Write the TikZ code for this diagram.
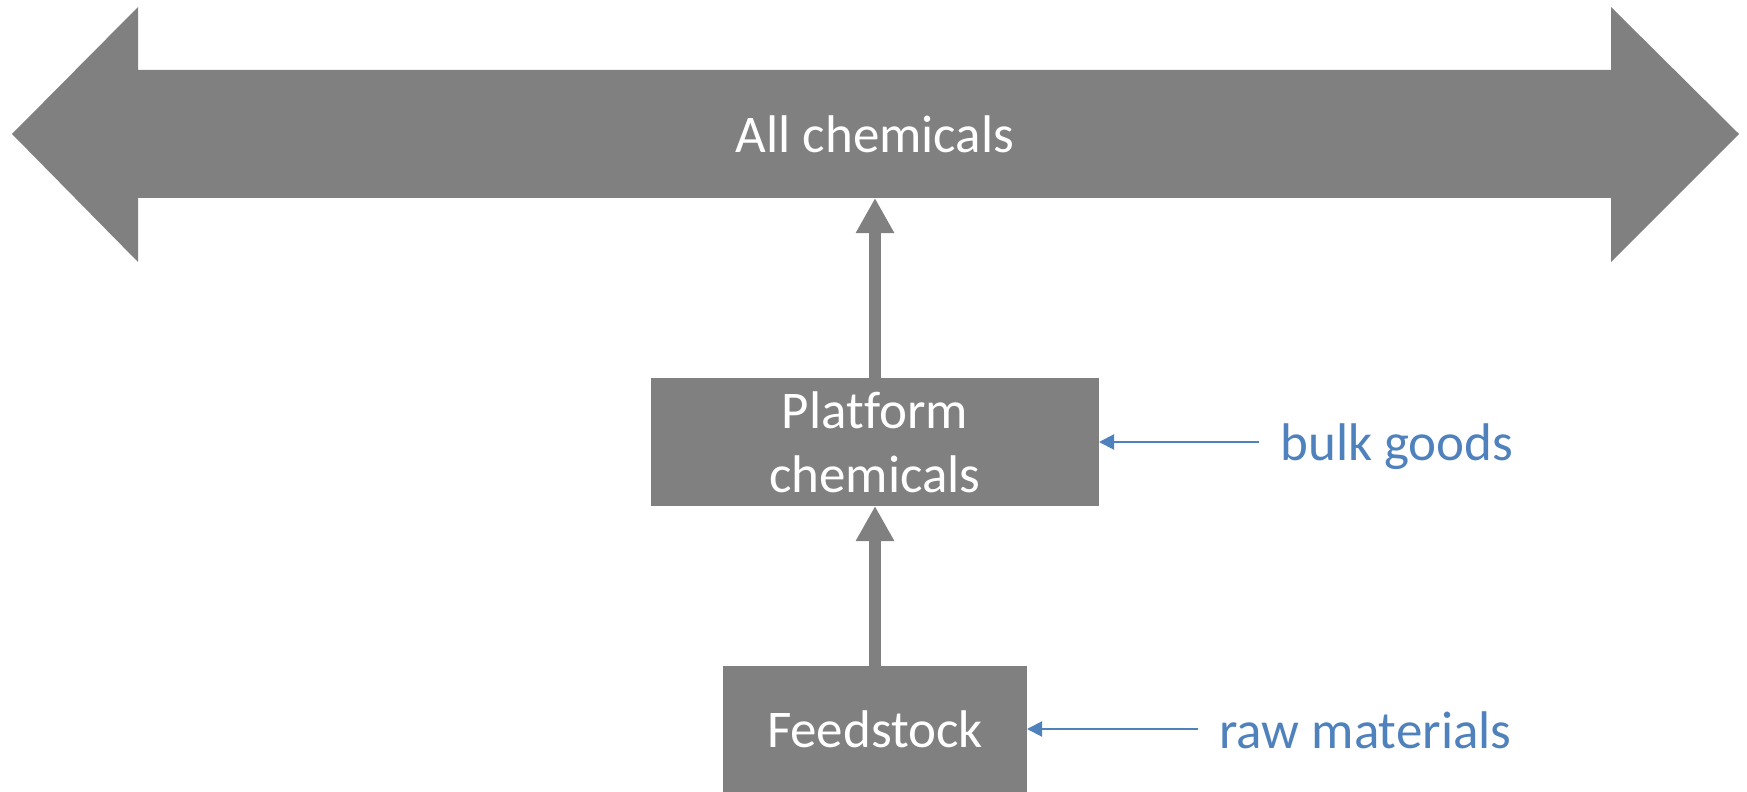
\documentclass[tikz,border=0pt]{standalone}
\usepackage{fontspec}
\setmainfont{Carlito}[Ligatures=NoCommon]
\usetikzlibrary{arrows.meta}
\definecolor{boxgray}{HTML}{808080}
\definecolor{labelblue}{HTML}{4F81BD}
\begin{document}
\begin{tikzpicture}[x=0.5pt,y=-0.5pt,
  box/.style={fill=boxgray, inner sep=0pt, outer sep=0pt, text=white, align=center,
    font=\fontsize{26.5}{32}\selectfont},
  lbl/.style={text=labelblue, font=\fontsize{26.5}{32}\selectfont, inner sep=0pt, anchor=base west},
  uparrow/.style={draw=boxgray, line width=6pt, -{Triangle[width=18pt,length=17.5pt]}},
  bluearrow/.style={draw=labelblue, line width=1pt, -{Triangle[width=7.5pt,length=7.5pt]}}]
\useasboundingbox (0,0) rectangle (1747,792);
% big double arrow
\fill[boxgray] (12,134) -- (138,7) -- (138,70) -- (1611,70) -- (1611,7) -- (1739,134)
  -- (1611,262) -- (1611,198) -- (138,198) -- (138,262) -- cycle;
\node[inner sep=0pt, outer sep=0pt, text=white, font=\fontsize{26.5}{32}\selectfont,
  minimum width=736.5pt, minimum height=64pt] (all) at (875,134) {All chemicals};
% boxes
\node[box, minimum width=224pt, minimum height=64pt] (plat) at (875,442) {Platform\\chemicals};
\node[box, minimum width=152pt, minimum height=63pt] (feed) at (875,729) {Feedstock};
% labels
\node[lbl] (bulk) at (1280,460) {bulk goods};
\node[lbl] (raw) at (1219,748) {raw materials};
\coordinate (bulkfrom) at (1259,442);
\coordinate (rawfrom) at (1198,729);
% connectors
\draw[uparrow] (plat.north) -- (all.south);
\draw[uparrow] (feed.north) -- (plat.south);
\draw[bluearrow] (bulkfrom) -- (plat.east);
\draw[bluearrow] (rawfrom) -- (feed.east);
\end{tikzpicture}
\end{document}
